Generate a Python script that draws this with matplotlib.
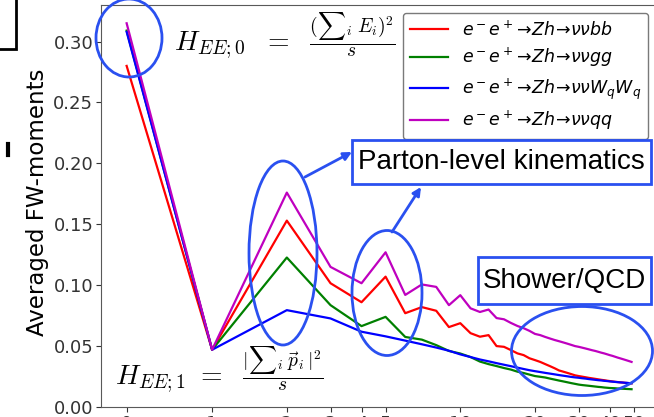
import matplotlib.pyplot as plt
from matplotlib.patches import Ellipse, Rectangle
from matplotlib.font_manager import FontProperties

# Fox-Wolfram moment index
ell = list(range(50))

h_bb = [0.280, 0.047, 0.153, 0.1016, 0.086, 0.107, 0.077, 0.082, 0.079, 0.0656,
        0.0688, 0.0606, 0.0577, 0.059, 0.050, 0.0494, 0.0467, 0.044, 0.0426, 0.040,
        0.0385, 0.037, 0.0352, 0.0335, 0.0318, 0.030, 0.029, 0.028, 0.027, 0.026,
        0.0254, 0.0249, 0.0244, 0.0239, 0.0235, 0.0231, 0.0227, 0.0223, 0.022, 0.0216,
        0.0213, 0.021, 0.0207, 0.0205, 0.0203, 0.0201, 0.0199, 0.0197, 0.0195, 0.0194]
h_gg = [0.309, 0.047, 0.1227, 0.0836, 0.0664, 0.074, 0.0575, 0.0553, 0.0508, 0.046,
        0.0439, 0.041, 0.0373, 0.0352, 0.0336, 0.032, 0.0307, 0.029, 0.0279, 0.0266,
        0.0254, 0.0248, 0.0242, 0.0233, 0.0225, 0.0217, 0.021, 0.0203, 0.0196, 0.019,
        0.0184, 0.018, 0.0177, 0.0174, 0.0171, 0.0168, 0.0165, 0.0163, 0.016, 0.0158,
        0.0156, 0.0155, 0.0154, 0.0152, 0.0151, 0.015, 0.0149, 0.0148, 0.0147, 0.0146]
h_ww = [0.308, 0.047, 0.0795, 0.0727, 0.0618, 0.058, 0.0545, 0.0515, 0.0488, 0.0462,
        0.0432, 0.041, 0.039, 0.0375, 0.036, 0.0347, 0.0335, 0.0323, 0.0312, 0.0302,
        0.0294, 0.0287, 0.028, 0.0274, 0.0268, 0.0262, 0.0257, 0.0252, 0.0247, 0.0243,
        0.024, 0.0236, 0.0233, 0.0229, 0.0226, 0.0223, 0.022, 0.0218, 0.0215, 0.0213,
        0.021, 0.0208, 0.0206, 0.0204, 0.0202, 0.0201, 0.0199, 0.0198, 0.0196, 0.0195]
h_qq = [0.315, 0.047, 0.176, 0.115, 0.1016, 0.127, 0.092, 0.1006, 0.0986, 0.0836,
        0.0918, 0.081, 0.078, 0.080, 0.073, 0.072, 0.069, 0.0665, 0.0647, 0.0625,
        0.060, 0.059, 0.0575, 0.0562, 0.055, 0.054, 0.053, 0.052, 0.051, 0.050,
        0.0494, 0.0487, 0.048, 0.0473, 0.0466, 0.046, 0.0453, 0.0446, 0.044, 0.0433,
        0.0426, 0.042, 0.0413, 0.0406, 0.040, 0.0394, 0.0388, 0.0382, 0.0376, 0.037]

labels = [r'$e^-e^+\!\rightarrow\! Zh\!\rightarrow\!\nu\nu bb$',
          r'$e^-e^+\!\rightarrow\! Zh\!\rightarrow\!\nu\nu gg$',
          r'$e^-e^+\!\rightarrow\! Zh\!\rightarrow\!\nu\nu W_qW_q$',
          r'$e^-e^+\!\rightarrow\! Zh\!\rightarrow\!\nu\nu qq$']
colors = ['r', 'g', 'b', 'm']
xticks = [0, 1, 2, 3, 4, 5, 10, 20, 30, 40, 50]
yticks = [0.00, 0.05, 0.10, 0.15, 0.20, 0.25, 0.30]

W, H = 654, 417
fig = plt.figure(figsize=(W / 100, H / 100), dpi=100)
# axes in pixel terms: left spine x=101, bottom y=407, top y=5, right edge off the picture
ax = fig.add_axes([101 / W, 10 / H, 569 / W, 402 / H])

for ys, c, lab in zip([h_bb, h_gg, h_ww, h_qq], colors, labels):
    ax.plot(ell, ys, color=c, lw=1.6, label=lab)

ax.set_xscale('symlog', linthresh=1, linscale=0.31)
ax.set_xlim(-0.3, 70)
ax.set_ylim(0, 0.33)
ax.set_xticks(xticks)
ax.set_xticklabels([str(t) for t in xticks])
ax.xaxis.set_minor_locator(plt.NullLocator())
ax.set_yticks(yticks)
ax.set_yticklabels(['%.2f' % t for t in yticks])
ax.tick_params(labelsize=13, colors='0.2', pad=2)
for s in ax.spines.values():
    s.set_color('0.35')
ax.set_ylabel('Averaged FW-moments', fontsize=16.5)
ax.yaxis.set_label_coords(-0.091, 0.51)

leg = ax.legend(loc='upper right', bbox_to_anchor=(648 / W, 1 - 13 / H),
                bbox_transform=fig.transFigure, borderaxespad=0,
                prop=FontProperties(size=12.5, math_fontfamily='dejavusans'),
                handlelength=2.2, labelspacing=0.4, fancybox=True)
leg.get_frame().set_edgecolor('0.35')

# overlay in pixel coordinates for the hand-drawn annotations
ov = fig.add_axes([0, 0, 1, 1], zorder=5)
ov.set_xlim(0, W)
ov.set_ylim(H, 0)
ov.axis('off')

blue = '#2a50f0'
for (cx, cy, w, h) in [(129, 38, 66, 78), (283, 253, 68, 184),
                       (387, 293, 70, 125), (582, 351, 141, 89)]:
    ov.add_patch(Ellipse((cx, cy), w, h, fill=False, edgecolor=blue, lw=2))

ov.add_patch(Rectangle((352, 140), 299, 44, fill=False, edgecolor=blue, lw=2))
ov.text(501, 162, 'Parton-level kinematics', family='Liberation Sans',
        fontsize=20, ha='center', va='center')
ov.add_patch(Rectangle((478, 257), 173, 47, fill=False, edgecolor=blue, lw=2))
ov.text(564, 281, 'Shower/QCD', family='Liberation Sans',
        fontsize=20, ha='center', va='center')

arrow = dict(arrowstyle='-|>', color=blue, lw=2, mutation_scale=12, shrinkA=0, shrinkB=0)
ov.annotate('', xy=(352, 152), xytext=(305, 177), arrowprops=arrow)
ov.annotate('', xy=(421, 187), xytext=(392, 232), arrowprops=arrow)

ov.text(174, 36, r'$H_{EE;0}\ \ =\ \ \frac{({\sum}_i\; E_i)^2}{s}$', fontsize=20,
        math_fontfamily='cm', ha='left', va='center')
ov.text(115, 370, r'$H_{EE;1}\ =\ \ \frac{|{\sum}_i\; \vec{p}_i\,|^2}{s}$', fontsize=20,
        math_fontfamily='cm', ha='left', va='center')

# pieces of neighbouring content cut off at the left edge
ov.add_patch(Rectangle((-10, -10), 26, 59, fill=False, edgecolor='black', lw=2))
ov.plot([8, 8], [144, 155], color='black', lw=3)

fig.savefig('out.png', dpi=100)
